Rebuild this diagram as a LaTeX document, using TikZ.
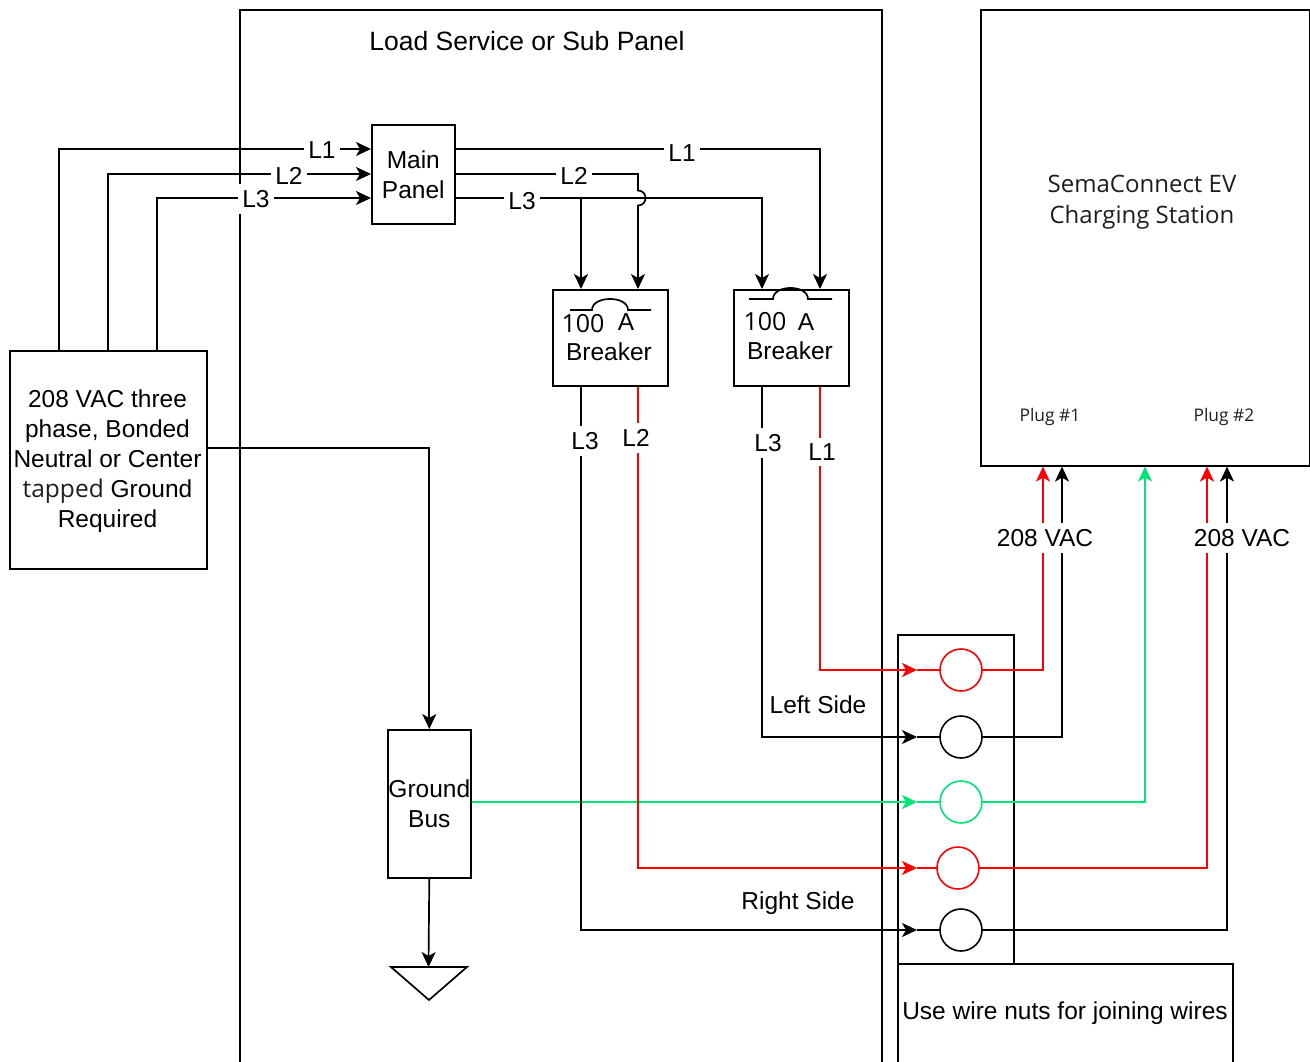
\documentclass[tikz,border=0pt]{standalone}
\usepackage{fontspec}
\setmainfont{Liberation Sans}
\newfontfamily\osf{Open Sans}
\usetikzlibrary{arrows.meta}
\definecolor{wred}{RGB}{255,0,0}
\definecolor{wgreen}{RGB}{0,230,118}
\definecolor{dgray}{RGB}{30,30,30}
\newcommand\myfs{\fontsize{24.5}{30}\selectfont}
\begin{document}
\begin{tikzpicture}[x=1pt,y=-1pt,
  box/.style={draw, line width=1.6pt, inner sep=0pt, align=center, font=\myfs},
  txt/.style={inner sep=0pt, align=center, font=\myfs},
  ostxt/.style={inner sep=0pt, align=center, font=\osf\fontsize{24}{31}\selectfont, text=dgray},
  plug/.style={inner sep=0pt, font=\osf\fontsize{17.4}{20}\selectfont, text=dgray},
  lbl/.style={fill=white, inner xsep=4pt, inner ysep=6pt, font=\myfs},
  wire/.style={line width=1.7pt},
  arr/.style={-{Stealth[length=15pt,width=14pt,inset=4pt]}},
  nut/.style={circle, draw, line width=1.6pt, fill=white, minimum size=42pt, inner sep=0pt}]
\useasboundingbox (0,0) rectangle (1310,1062);
\begin{scope}
\clip (0,0) rectangle (1310,1062);
% boxes
\node[box, anchor=north west, minimum width=642pt, minimum height=1100pt] (panel) at (239,9) {};
\node[txt, font=\fontsize{26.5}{30}\selectfont] (ptitle) at (527,41) {Load Service or Sub Panel};
\node[box, anchor=north west, minimum width=329pt, minimum height=456pt] (ev) at (980,9) {};
\node[ostxt] (evt) at (1142,202) {SemaConnect EV\\Charging Station};
\node[plug] (p1) at (1050,417) {Plug \#1};
\node[plug] (p2) at (1224,417) {Plug \#2};
\node[box, anchor=north west, minimum width=83pt, minimum height=99pt] (main) at (371,124) {Main\\Panel};
\node[box, anchor=north west, minimum width=197pt, minimum height=218pt] (src) at (9,350) {};
\node[txt] (srct) at (107.5,461.5)
  {208 VAC three\\phase, Bonded\\Neutral or Center\\{\osf\color{dgray}tapped} Ground\hspace*{36pt}\\Required};
\node[box, anchor=north west, minimum width=83pt, minimum height=148pt] (gbus) at (387,729) {Ground\\Bus};
\node[box, anchor=north west, minimum width=115pt, minimum height=96pt] (brk1) at (552,289) {};
\node[box, anchor=north west, minimum width=115pt, minimum height=96pt] (brk2) at (733,289) {};
\node[txt] (b1t) at (609,352) {Breaker};
\node[txt] (b2t) at (790,351) {Breaker};
\node[ostxt, text=black, font=\osf\fontsize{25}{30}\selectfont] (b1n) at (583,324) {100};
\node[txt] (b1a) at (626,322) {A};
\node[ostxt, text=black, font=\osf\fontsize{25}{30}\selectfont] (b2n) at (765,322) {100};
\node[txt] (b2a) at (806,322) {A};
\node[box, anchor=north west, minimum width=116pt, minimum height=329pt] (nuts) at (897,634) {};
\node[box, anchor=north west, minimum width=335pt, minimum height=200pt] (notebox) at (897,963) {};
\node[txt] (note) at (1065,1013) {Use wire nuts for joining wires};
% breaker symbols
\draw[wire] (570,310) -- (592,310) .. controls (592,295.3) and (628,295.3) .. (628,310) -- (651,310);
\draw[wire] (749,299) -- (773,299) .. controls (773,284.3) and (808,284.3) .. (808,299) -- (832,299);
% ground symbol
\coordinate (gnd) at (428.5,967);
\draw[wire] (391,967) -- (467,967) -- (429,1000) -- cycle;
% helper coordinates
\coordinate (xa) at (59,0); \coordinate (xb) at (108,0); \coordinate (xc) at (157,0);
\coordinate (ya) at (0,149); \coordinate (yb) at (0,174); \coordinate (yc) at (0,198);
\coordinate (yg) at (0,448);
\coordinate (x581) at (581,0); \coordinate (x638) at (638,0);
\coordinate (x762) at (762,0); \coordinate (x820) at (820,0);
\coordinate (j3) at (581,198);
\coordinate (hopt) at (638,190.5); \coordinate (hopb) at (638,205.5);
\coordinate (in1) at (917,670); \coordinate (in2) at (917,737); \coordinate (in3) at (917,802);
\coordinate (in4) at (917,868); \coordinate (in5) at (917,930);
\coordinate (o1) at (1043,0); \coordinate (o2) at (1062,0); \coordinate (o3) at (1145,0);
\coordinate (o4) at (1207,0); \coordinate (o5) at (1227,0);
% source to main panel
\draw[wire,arr] (src.north -| xa) |- (main.west |- ya);
\draw[wire,arr] (src.north -| xb) |- (main.west |- yb);
\draw[wire,arr] (src.north -| xc) |- (main.west |- yc);
% main panel to breakers
\draw[wire,arr] (main.east |- ya) -| (brk2.north -| x820);
\draw[wire,arr] (main.east |- yb) -| (hopt) .. controls (648,190.5) and (648,205.5) .. (hopb) -- (brk1.north -| x638);
\draw[wire,arr] (main.east |- yc) -| (brk2.north -| x762);
\draw[wire,arr] (j3) -- (brk1.north -| j3);
% ground
\draw[wire,arr] (src.east |- yg) -| (gbus.north);
\draw[wire,arr] (gbus.south) -- (gnd);
\draw[wire,wgreen,arr] (gbus.east |- in3) -- (in3);
% breakers to nuts
\draw[wire,arr] (brk1.south -| x581) |- (in5);
\draw[wire,wred,arr] (brk1.south -| x638) |- (in4);
\draw[wire,arr] (brk2.south -| x762) |- (in2);
\draw[wire,wred,arr] (brk2.south -| x820) |- (in1);
% nuts to charger
\draw[wire,wred,arr] (in1) -| (ev.south -| o1);
\draw[wire,arr] (in2) -| (ev.south -| o2);
\draw[wire,wgreen,arr] (in3) -| (ev.south -| o3);
\draw[wire,wred,arr] (in4) -| (ev.south -| o4);
\draw[wire,arr] (in5) -| (ev.south -| o5);
% nuts
\node[nut, draw=wred] (n1) at (961,670) {};
\node[nut] (n2) at (961,737) {};
\node[nut, draw=wgreen] (n3) at (961,802) {};
\node[nut, draw=wred] (n4) at (958,868) {};
\node[nut] (n5) at (961,930) {};
% labels
\node[lbl] (la1) at (322,150) {L1};
\node[lbl] (la2) at (289,176) {L2};
\node[lbl] (la3) at (256,199) {L3};
\node[lbl] (lb1) at (682,153) {L1};
\node[lbl] (lb2) at (574,176) {L2};
\node[lbl] (lb3) at (522,201) {L3};
\node[lbl] (lc3) at (585,441) {L3};
\node[lbl] (lc2) at (636,438) {L2};
\node[lbl] (ld3) at (768,443) {L3};
\node[lbl] (ld1) at (822,452) {L1};
\node[lbl] (v1) at (1045,538) {208 VAC};
\node[lbl] (v2) at (1242,538) {208 VAC};
\node[txt] (lside) at (818,705) {Left Side};
\node[txt] (rside) at (798,903) {Right Side};
\end{scope}
\end{tikzpicture}
\end{document}
